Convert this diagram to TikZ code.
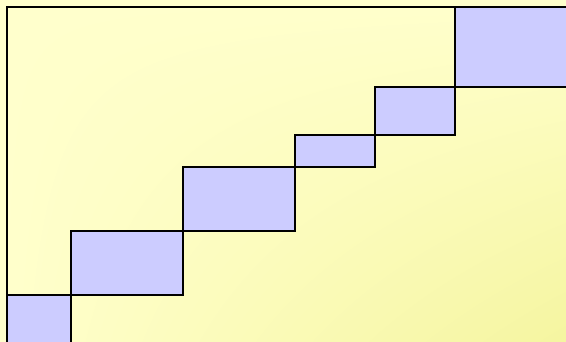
\documentclass[tikz,border=0pt]{standalone}
\usetikzlibrary{shadings}
\definecolor{stepBgLight}{RGB}{255,255,204}
\definecolor{stepBgDark}{RGB}{245,245,160}
\definecolor{stepBlockFill}{RGB}{204,204,255}
\definecolor{stepLine}{RGB}{0,0,0}

\begin{document}
\begin{tikzpicture}[x=1pt, y=1pt]
  \useasboundingbox (0,0) rectangle (566,342);
  \shade[upper left=stepBgLight, upper right=stepBgLight, lower left=stepBgLight, lower right=stepBgDark] (0,0) rectangle (566,342);
  \begin{scope}
  \clip (0,0) rectangle (566,342);
  \draw[line width=2pt, draw=stepLine, fill=stepBlockFill] (7,-5) rectangle (71,47);
  \draw[line width=2pt, draw=stepLine, fill=stepBlockFill] (71,47) rectangle (183,111);
  \draw[line width=2pt, draw=stepLine, fill=stepBlockFill] (183,111) rectangle (295,175);
  \draw[line width=2pt, draw=stepLine, fill=stepBlockFill] (295,175) rectangle (375,207);
  \draw[line width=2pt, draw=stepLine, fill=stepBlockFill] (375,207) rectangle (455,255);
  \draw[line width=2pt, draw=stepLine, fill=stepBlockFill] (455,255) rectangle (575,335);
  \draw[line width=2pt, draw=stepLine] (7,-5) -- (7,335) -- (575,335);
  \end{scope}
\end{tikzpicture}
\end{document}
